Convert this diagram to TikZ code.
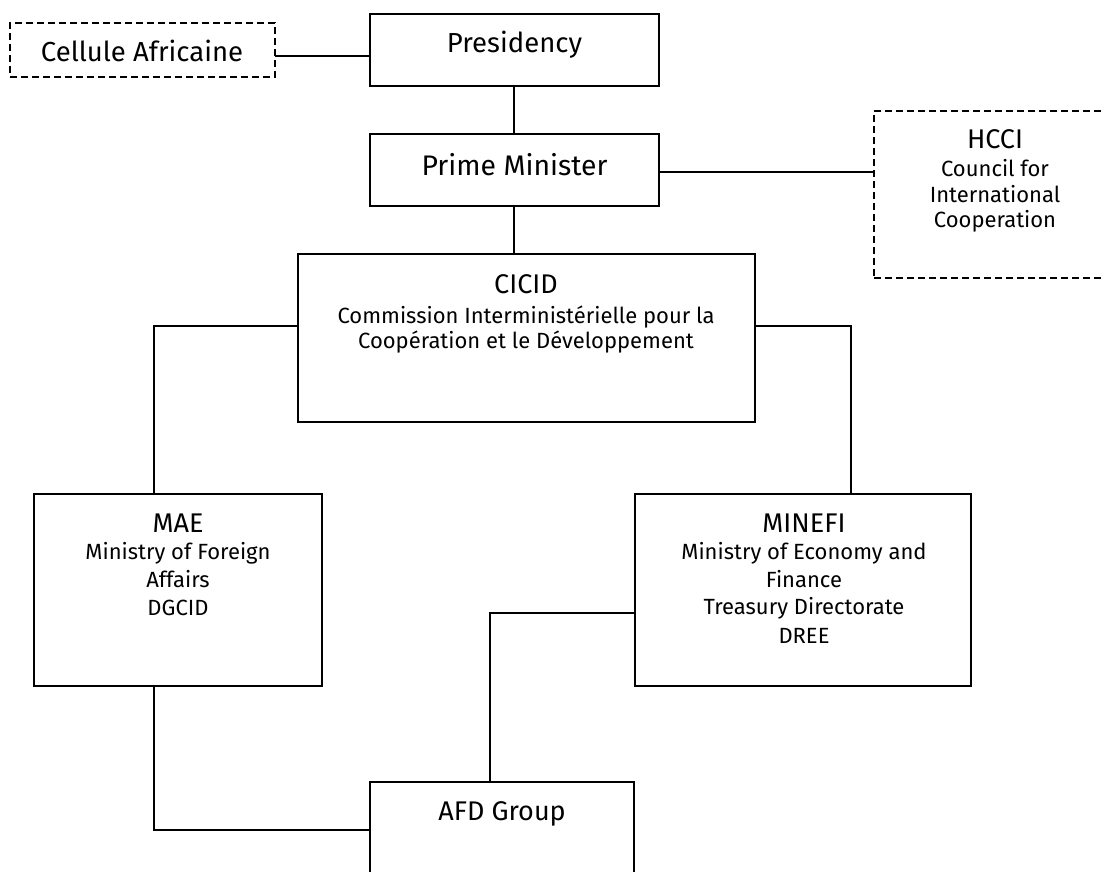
\documentclass[tikz,border=0pt]{standalone}
\usepackage{fontspec}
\setmainfont{Fira Sans}
\begin{document}
\begin{tikzpicture}[x=1pt,y=-1pt,
  box/.style={draw, line width=1.5pt, rectangle, outer sep=0pt, inner sep=0pt, anchor=north west},
  dbox/.style={box, line width=1.4pt, dash pattern=on 7pt off 4pt},
  conn/.style={line width=1.2pt},
  big/.style={anchor=base, inner sep=0pt, font=\fontsize{27.5}{32}\selectfont},
  pmtxt/.style={anchor=base, inner sep=0pt, font=\fontsize{28.3}{34}\selectfont},
  ttl/.style={anchor=base, inner sep=0pt, font=\fontsize{27}{31}\selectfont},
  sub/.style={anchor=base, inner sep=0pt, font=\fontsize{22}{26}\selectfont}]
\useasboundingbox (0,0) rectangle (1105,872);
\clip (0,0) rectangle (1105,872);
% boxes
\node[dbox, minimum width=265pt, minimum height=54pt] (cell) at (10,23) {};
\node[box, minimum width=289pt, minimum height=72pt] (pres) at (370,14) {};
\node[box, minimum width=289pt, minimum height=72pt] (pm) at (370,134) {};
\node[dbox, minimum width=250pt, minimum height=167pt] (hcci) at (874,111) {};
\node[box, minimum width=457pt, minimum height=168pt] (cicid) at (298,254) {};
\node[box, minimum width=288pt, minimum height=192pt] (mae) at (34,494) {};
\node[box, minimum width=336pt, minimum height=192pt] (minefi) at (635,494) {};
\node[box, minimum width=264pt, minimum height=140pt] (afd) at (370,782) {};
% texts
\node[big] (tcell) at (142,62) {Cellule Africaine};
\node[big] (tpres) at (514.5,53) {Presidency};
\node[pmtxt] (tpm) at (514.5,175) {Prime Minister};
\node[ttl] (thcci) at (995,148) {HCCI};
\node[sub] (thcci1) at (995,176) {Council for};
\node[sub] (thcci2) at (995,202) {International};
\node[sub] (thcci3) at (995,227) {Cooperation};
\node[ttl] (tcicid) at (526,293) {CICID};
\node[sub] (tcicid1) at (526,323) {Commission Interministérielle pour la};
\node[sub] (tcicid2) at (526,348) {Coopération et le Développement};
\node[ttl] (tmae) at (178,532) {MAE};
\node[sub] (tmae1) at (178,559) {Ministry of Foreign};
\node[sub] (tmae2) at (178,587) {Affairs};
\node[sub] (tmae3) at (178,615) {DGCID};
\node[ttl] (tmin) at (804,532) {MINEFI};
\node[sub] (tmin1) at (804,559) {Ministry of Economy and};
\node[sub] (tmin2) at (804,587) {Finance};
\node[sub] (tmin3) at (804,614) {Treasury Directorate};
\node[sub] (tmin4) at (804,643) {DREE};
\node[ttl] (tafd) at (502,820) {AFD Group};
% connectors
\coordinate (cL) at (154,326);
\coordinate (cR) at (851,326);
\coordinate (mA) at (490,613);
\coordinate (mB) at (154,830);
\draw[conn] (cell.east |- 0,56) -- (pres.west |- 0,56);
\draw[conn] (pres.south -| 514,0) -- (pm.north -| 514,0);
\draw[conn] (pm.east |- 0,172) -- (hcci.west |- 0,172);
\draw[conn] (pm.south -| 514,0) -- (cicid.north -| 514,0);
\draw[conn] (cicid.west |- cL) -- (cL) -- (mae.north -| cL);
\draw[conn] (cicid.east |- cR) -- (cR) -- (minefi.north -| cR);
\draw[conn] (minefi.west |- mA) -- (mA) -- (afd.north -| mA);
\draw[conn] (mae.south -| mB) -- (mB) -- (afd.west |- mB);
\end{tikzpicture}
\end{document}
